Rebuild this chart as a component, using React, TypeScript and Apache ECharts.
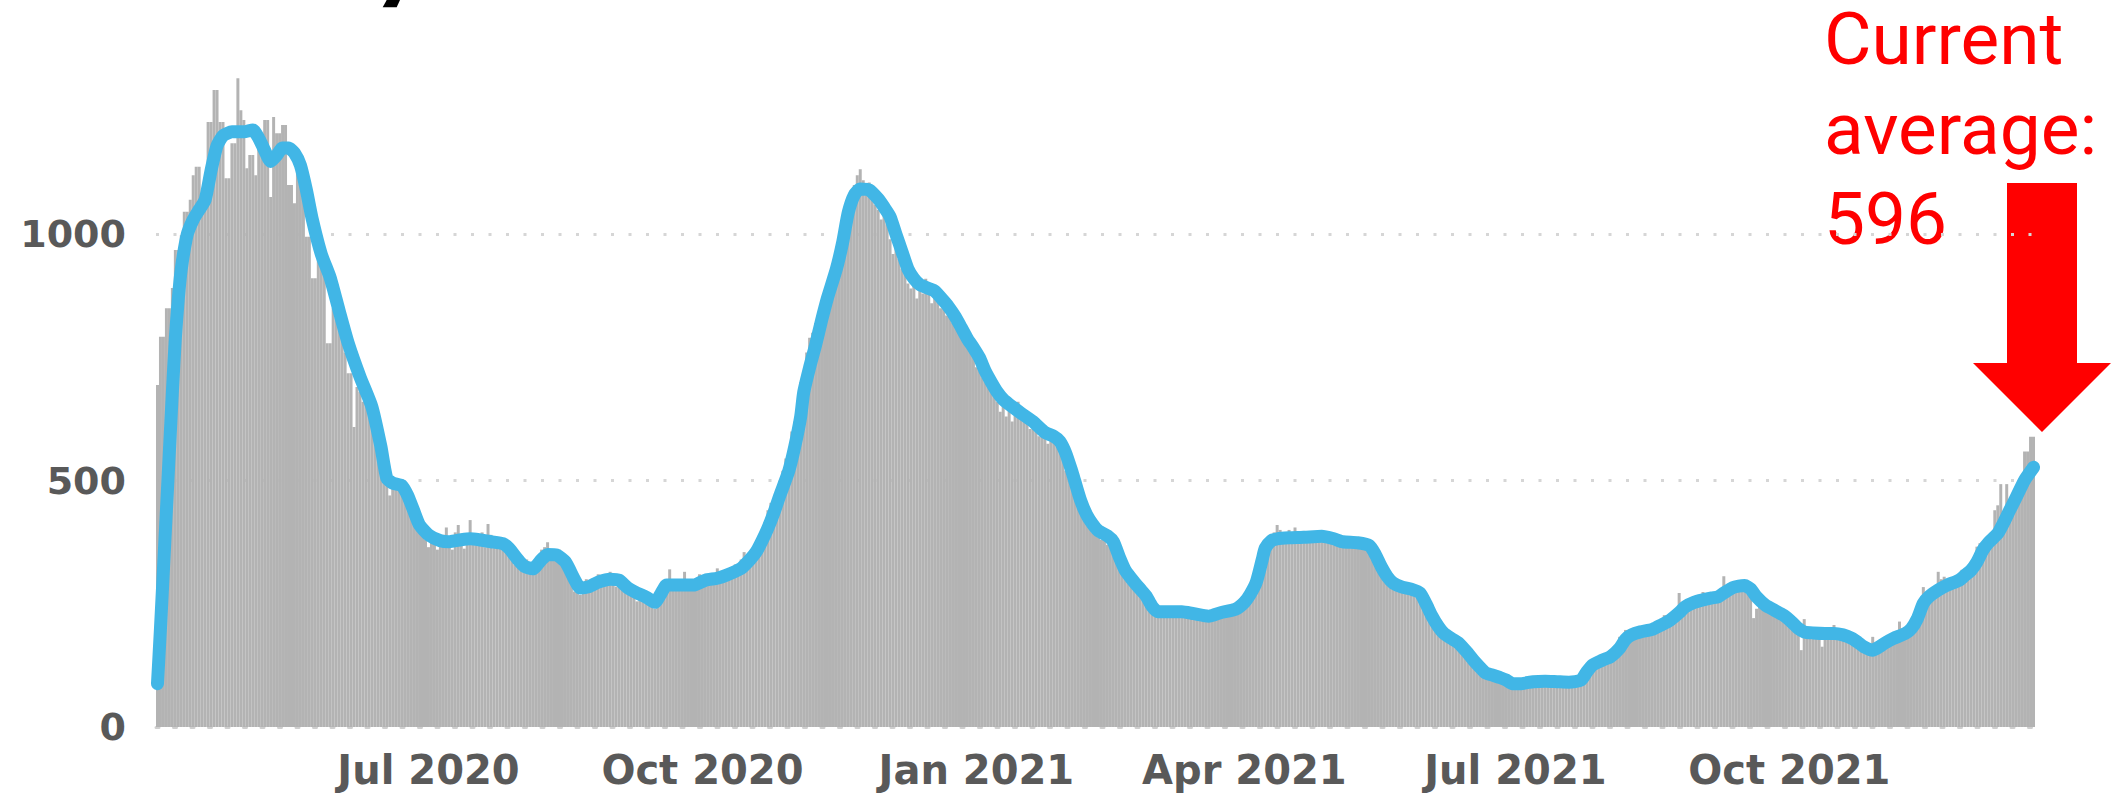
import React, { useEffect, useRef } from "react";
import * as echarts from "echarts";

const START_DATE = "2020-04-01";

// daily values (bars), one per day starting at START_DATE
const dailyValues = [
  694, 792, 792, 850, 850, 891, 968, 968, 998, 1046,
  1046, 1070, 1120, 1137, 1137, 1083, 1083, 1228, 1228, 1293,
  1293, 1228, 1228, 1114, 1114, 1185, 1185, 1317, 1252, 1232,
  1134, 1161, 1161, 1120, 1177, 1177, 1232, 1232, 1076, 1238,
  1205, 1205, 1222, 1222, 1100, 1100, 1063, 1140, 1140, 1130,
  995, 995, 911, 911, 980, 960, 940, 779, 779, 850,
  830, 830, 800, 760, 718, 718, 609, 690, 680, 660,
  665, 640, 655, 600, 570, 590, 540, 510, 470, 500,
  505, 490, 480, 500, 470, 430, 445, 400, 420, 395,
  380, 365, 400, 385, 360, 372, 390, 405, 370, 360,
  395, 410, 380, 362, 375, 420, 390, 370, 385, 395,
  365, 412, 390, 375, 362, 380, 370, 358, 350, 340,
  330, 335, 318, 325, 340, 312, 315, 330, 345, 360,
  365, 375, 350, 340, 345, 360, 330, 320, 305, 290,
  275, 280, 268, 290, 300, 285, 275, 292, 310, 300,
  290, 305, 315, 298, 285, 300, 290, 278, 270, 282,
  265, 255, 275, 262, 250, 268, 245, 240, 258, 282,
  295, 300, 320, 290, 285, 280, 300, 315, 292, 285,
  280, 295, 310, 298, 290, 305, 300, 310, 322, 298,
  310, 318, 305, 320, 330, 325, 340, 355, 345, 335,
  350, 370, 380, 395, 410, 440, 455, 440, 470, 500,
  520, 545, 560, 600, 620, 650, 700, 720, 760, 790,
  800, 820, 840, 860, 880, 900, 915, 940, 960, 980,
  1010, 1040, 1060, 1090, 1100, 1120, 1132, 1110, 1095, 1105,
  1070, 1060, 1050, 1030, 1045, 1020, 990, 960, 1000, 950,
  930, 920, 900, 890, 905, 870, 900, 880, 910, 895,
  860, 880, 870, 850, 860, 835, 845, 820, 810, 830,
  790, 780, 770, 795, 750, 730, 745, 710, 700, 690,
  680, 700, 660, 640, 655, 630, 650, 620, 640, 660,
  625, 640, 620, 605, 615, 600, 590, 610, 595, 575,
  590, 580, 570, 560, 545, 520, 510, 490, 470, 460,
  440, 425, 420, 410, 395, 400, 385, 380, 395, 370,
  365, 360, 340, 330, 310, 300, 295, 290, 280, 275,
  270, 262, 255, 245, 240, 230, 225, 235, 228, 232,
  236, 225, 230, 238, 228, 224, 232, 226, 222, 230,
  225, 220, 228, 222, 218, 230, 235, 228, 236, 240,
  242, 245, 238, 250, 255, 262, 260, 268, 285, 300,
  330, 360, 375, 380, 390, 395, 410, 400, 392, 385,
  400, 395, 405, 390, 380, 398, 388, 392, 385, 375,
  385, 395, 380, 390, 375, 370, 382, 378, 368, 372,
  376, 370, 380, 372, 365, 375, 362, 360, 340, 335,
  320, 305, 298, 290, 300, 285, 290, 280, 275, 285,
  278, 275, 270, 262, 268, 245, 240, 230, 215, 210,
  200, 195, 185, 180, 175, 170, 165, 172, 160, 150,
  145, 140, 130, 128, 120, 112, 108, 105, 100, 98,
  100, 95, 92, 90, 88, 85, 90, 87, 92, 88,
  90, 94, 92, 95, 88, 90, 96, 92, 94, 90,
  88, 92, 95, 90, 93, 96, 98, 100, 102, 108,
  115, 120, 128, 130, 135, 132, 140, 145, 150, 155,
  160, 183, 178, 197, 197, 190, 185, 188, 192, 190,
  195, 200, 205, 198, 210, 215, 227, 220, 218, 225,
  235, 272, 245, 240, 250, 255, 248, 252, 256, 274,
  262, 258, 265, 260, 268, 275, 306, 280, 284, 288,
  290, 285, 282, 278, 270, 265, 221, 240, 245, 238,
  240, 235, 230, 225, 222, 218, 215, 210, 208, 205,
  200, 195, 156, 219, 192, 190, 188, 186, 185, 163,
  188, 190, 192, 207, 185, 186, 182, 178, 180, 175,
  172, 168, 165, 160, 158, 155, 183, 160, 165, 168,
  172, 175, 178, 180, 185, 214, 188, 192, 196, 205,
  215, 225, 251, 284, 265, 270, 272, 278, 315, 300,
  305, 298, 300, 302, 305, 310, 319, 312, 315, 322,
  335, 366, 373, 360, 375, 380, 390, 440, 450, 493,
  420, 493, 450, 460, 470, 485, 500, 559, 559, 589, 589,
];

// 7-day average line, read at these day indices
const avgDays = [
  0, 1, 2, 3, 4, 5, 6, 7, 8, 10, 12, 14, 16, 18, 20, 22, 25, 29, 32, 34, 36, 38, 40, 42, 44, 46, 48, 50,
  52, 55, 58, 61, 64, 68, 72, 75, 77, 79, 82, 84, 86, 88, 91, 95, 98, 102, 105, 108, 112, 116, 118, 121,
  123, 126, 129, 131, 134, 137, 140, 142, 145, 148, 152, 155, 158, 161, 164, 167, 169, 171, 175, 180, 184,
  188, 191, 196, 199, 201, 203, 205, 207, 209, 212, 214, 216, 217, 219, 221, 223, 225, 228, 230, 232, 234,
  236, 239, 242, 244, 246, 248, 250, 252, 254, 256, 259, 261, 264, 266, 268, 270, 272, 274, 276, 278, 280,
  282, 284, 286, 290, 294, 298, 301, 303, 305, 307, 308, 310, 312, 314, 316, 319, 321, 323, 325, 328, 330,
  332, 334, 336, 340, 344, 348, 353, 357, 362, 365, 367, 369, 371, 372, 374, 376, 380, 385, 391, 395, 398,
  403, 407, 409, 411, 413, 415, 418, 421, 424, 426, 428, 430, 432, 435, 437, 440, 442, 444, 446, 449, 451,
  453, 455, 458, 462, 466, 470, 474, 478, 480, 482, 485, 488, 491, 493, 495, 498, 502, 505, 508, 511, 513,
  516, 519, 522, 524, 526, 529, 531, 533, 535, 537, 540, 543, 546, 549, 551, 553, 556, 560, 563, 566, 569,
  571, 573, 576, 578, 580, 583, 587, 589, 591, 593, 595, 598, 601, 605, 607, 609, 611, 613, 615, 618, 620,
  622, 624, 627, 630,
];
const avgValues = [
  88, 200, 320, 440, 560, 680, 790, 870, 930, 1000, 1030, 1050, 1070, 1130, 1180, 1200, 1208, 1208, 1212,
  1195, 1170, 1148, 1160, 1175, 1175, 1165, 1140, 1090, 1030, 960, 912, 845, 780, 711, 650, 570, 505, 495,
  490, 470, 440, 410, 390, 378, 376, 380, 382, 380, 376, 372, 363, 340, 327, 321, 340, 350, 349, 335, 300,
  282, 285, 294, 300, 298, 282, 272, 264, 253, 270, 288, 288, 288, 298, 302, 308, 322, 340, 355, 378, 404,
  435, 470, 520, 569, 630, 679, 730, 775, 825, 871, 930, 981, 1045, 1080, 1092, 1090, 1072, 1055, 1036,
  1000, 965, 930, 910, 898, 890, 885, 865, 850, 832, 810, 788, 770, 750, 722, 700, 680, 665, 655, 637, 620,
  598, 590, 580, 556, 520, 500, 460, 431, 412, 398, 388, 376, 345, 318, 294, 280, 266, 245, 234, 234, 234,
  230, 225, 232, 239, 253, 270, 294, 340, 363, 378, 382, 384, 385, 387, 382, 376, 374, 368, 350, 325, 305,
  292, 284, 280, 272, 250, 225, 205, 190, 178, 170, 150, 135, 122, 110, 104, 100, 95, 88, 88, 92, 93, 92,
  91, 95, 112, 126, 135, 143, 160, 178, 187, 193, 198, 207, 217, 232, 244, 253, 258, 262, 264, 272, 283,
  286, 287, 280, 264, 247, 237, 227, 212, 200, 193, 191, 190, 190, 187, 180, 172, 163, 156, 162, 170, 180,
  190, 200, 220, 251, 265, 278, 288, 298, 308, 318, 335, 359, 375, 393, 415, 440, 464, 501, 527,
];

const tickDates = ["2020-07-01", "2020-10-01", "2021-01-01", "2021-04-01", "2021-07-01", "2021-10-01"];
const tickLabels = ["Jul 2020", "Oct 2020", "Jan 2021", "Apr 2021", "Jul 2021", "Oct 2021"];
const noteLines = ["Current", "average:", "596"];

// the chart box starts this many pixels above the page top (its 1500 line lies outside the picture)
const SHIFT = 12;

function buildDates(start: string, n: number): string[] {
  const out: string[] = [];
  const d = new Date(start + "T00:00:00Z");
  for (let i = 0; i < n; i++) {
    out.push(d.toISOString().slice(0, 10));
    d.setUTCDate(d.getUTCDate() + 1);
  }
  return out;
}

export default function App() {
  const ref = useRef<HTMLDivElement>(null);

  useEffect(() => {
    if (!ref.current) return;
    const chart = echarts.init(ref.current, undefined, { renderer: "svg" });
    const dates = buildDates(START_DATE, dailyValues.length);
    const labelMap: Record<string, string> = {};
    tickDates.forEach((d, i) => (labelMap[d] = tickLabels[i]));
    const lineData = avgDays.map((d, i) => [d, avgValues[i]]);
    const noteTops = [2.5, 92, 182];

    chart.setOption({
      animation: false,
      backgroundColor: "#ffffff",
      grid: { left: 156, right: 91, top: 0, bottom: 73, containLabel: false },
      xAxis: {
        type: "category",
        data: dates,
        boundaryGap: true,
        offset: 1.5,
        axisLine: {
          show: true,
          lineStyle: { color: "#cfcfcf", width: 3, type: [3, 14.5] },
        },
        axisTick: { show: false },
        axisLabel: {
          interval: (idx: number, val: string) => labelMap[val] !== undefined,
          formatter: (val: string) => labelMap[val] || "",
          fontFamily: "DejaVu Sans",
          fontWeight: "bold",
          fontSize: 40,
          color: "#595959",
          margin: 21,
        },
        splitLine: { show: false },
      },
      yAxis: {
        type: "value",
        min: 0,
        max: 1500,
        interval: 500,
        axisLine: { show: false },
        axisTick: { show: false },
        axisLabel: {
          showMaxLabel: false,
          formatter: (v: number) => String(v),
          fontFamily: "DejaVu Sans",
          fontWeight: "bold",
          fontSize: 38,
          color: "#595959",
          margin: 30,
        },
        splitLine: {
          show: true,
          lineStyle: { color: "#d6d6d6", width: 3, type: [3, 14.5] },
        },
      },
      series: [
        {
          type: "bar",
          data: dailyValues,
          barCategoryGap: "0%",
          itemStyle: { color: "#b3b3b3" },
          silent: true,
        },
        {
          type: "line",
          data: lineData,
          showSymbol: false,
          symbol: "none",
          smooth: 0.2,
          lineStyle: { color: "#41b6e6", width: 13, cap: "round", join: "round" },
          silent: true,
          z: 3,
        },
      ],
      graphic: [
        {
          type: "polygon",
          shape: {
            points: [
              [386.7, SHIFT],
              [400, SHIFT],
              [396.7, SHIFT + 7.3],
              [382.7, SHIFT + 7.3],
            ],
          },
          style: { fill: "#000000" },
        },
        ...noteLines.map((t, i) => ({
          type: "text",
          x: 1824,
          y: SHIFT + noteTops[i],
          style: {
            text: t,
            font: "73px Roboto",
            fill: "#ff0000",
            lineHeight: 73,
            verticalAlign: "top",
          },
        })),
        {
          type: "polygon",
          shape: {
            points: [
              [2007, SHIFT + 183],
              [2077, SHIFT + 183],
              [2077, SHIFT + 363],
              [2111, SHIFT + 363],
              [2042, SHIFT + 432],
              [1973, SHIFT + 363],
              [2007, SHIFT + 363],
            ],
          },
          style: { fill: "#ff0000" },
        },
      ],
    });
    return () => chart.dispose();
  }, []);

  return (
    <div
      ref={ref}
      style={{
        position: "fixed",
        left: 0,
        top: -SHIFT,
        width: 2126,
        height: 800 + SHIFT,
        background: "#fff",
      }}
    />
  );
}
